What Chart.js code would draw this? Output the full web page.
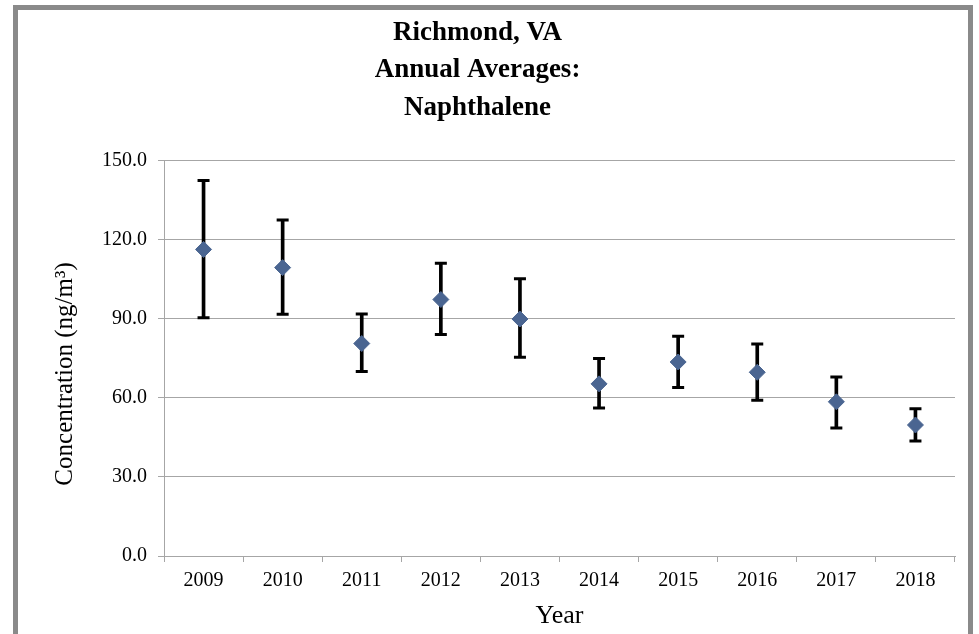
<!DOCTYPE html>
<html>
<head>
<meta charset="utf-8">
<script src="https://cdn.jsdelivr.net/npm/chart.js@4.4.1/dist/chart.umd.min.js"></script>
<style>
body { margin:0; background:#ffffff; overflow:hidden; }
#frame { position:absolute; left:13px; top:5px; width:960px; height:700px; box-sizing:border-box; border:5px solid #8a8a8a; pointer-events:none; }
#chart_area { position:absolute; left:0; top:0; }
</style>
</head>
<body>
<canvas id="chart_area" width="979" height="634"></canvas>
<div id="frame"></div>
<script>
const years = ['2009','2010','2011','2012','2013','2014','2015','2016','2017','2018'];
const averages = [116.3, 109.4, 80.6, 97.3, 89.9, 65.3, 73.6, 69.7, 58.5, 49.7];
const upperBound = [142.4, 127.5, 91.8, 111.1, 105.2, 74.9, 83.4, 80.4, 67.9, 55.9];
const lowerBound = [90.4, 91.7, 70.0, 84.0, 75.4, 56.1, 63.9, 59.1, 48.6, 43.6];
const yTicks = [0, 30, 60, 90, 120, 150];

const serif = "'Times New Roman', 'Liberation Serif', serif";
const gridGrey = '#a6a6a6';

// whisker bodies as thin floating bars
let whiskers = [];
for (let i = 0; i < years.length; i++)
{
    whiskers.push([lowerBound[i], upperBound[i]]);
}

const ctx = document.getElementById('chart_area').getContext('2d');
const myChart = new Chart(ctx, {
    type: 'bar',
    data: {
        labels: years,
        datasets: [{
            type: 'line',
            label: 'Annual Average',
            data: averages,
            showLine: false,
            pointStyle: 'rectRot',
            pointRadius: 8,
            pointBackgroundColor: '#4a6591',
            pointBorderColor: '#4a6591',
            pointBorderWidth: 1
        },
        {
            type: 'line',
            label: 'Upper',
            data: upperBound,
            showLine: false,
            pointStyle: 'line',
            pointRadius: 6,
            pointBorderWidth: 3,
            pointBorderColor: '#000000'
        },
        {
            type: 'line',
            label: 'Lower',
            data: lowerBound,
            showLine: false,
            pointStyle: 'line',
            pointRadius: 6,
            pointBorderWidth: 3,
            pointBorderColor: '#000000'
        },
        {
            label: 'Range',
            data: whiskers,
            backgroundColor: '#000000',
            borderWidth: 0,
            barThickness: 3
        }]
    },
    options: {
        responsive: false,
        animation: false,
        layout: {
            padding: {left: 0, right: 24, top: 0, bottom: 0}
        },
        scales: {
            x: {
                type: 'category',
                offset: true,
                grid: {
                    offset: true,
                    drawOnChartArea: false,
                    drawTicks: true,
                    tickLength: 6,
                    color: gridGrey
                },
                border: {
                    display: true,
                    color: gridGrey
                },
                ticks: {
                    color: '#000000',
                    padding: 7,
                    maxRotation: 0,
                    font: {family: serif, size: 20}
                },
                title: {
                    display: true,
                    text: 'Year',
                    color: '#000000',
                    padding: {top: 0, bottom: 2},
                    font: {family: serif, size: 26}
                },
                afterFit: function(scale) {
                    scale.height = 78;
                }
            },
            y: {
                min: 0,
                max: 150,
                afterBuildTicks: function(scale) {
                    scale.ticks = yTicks.map(v => ({value: v}));
                },
                grid: {
                    color: gridGrey,
                    drawTicks: true,
                    tickLength: 6
                },
                border: {
                    display: true,
                    color: gridGrey
                },
                ticks: {
                    color: '#000000',
                    padding: 11,
                    font: {family: serif, size: 20},
                    callback: function(v) {
                        return Number(v).toFixed(1);
                    }
                },
                title: {
                    display: true,
                    text: 'Concentration (ng/m\u00b3)\u00a0\u00a0\u00a0\u00a0\u00a0',
                    color: '#000000',
                    padding: {top: 50, bottom: 0},
                    font: {family: serif, size: 25}
                },
                afterFit: function(scale) {
                    scale.width = 164;
                }
            }
        },
        plugins: {
            legend: {
                display: false
            },
            tooltip: {
                enabled: false
            },
            title: {
                display: true,
                text: ['Richmond, VA', 'Annual Averages:', 'Naphthalene'],
                color: '#000000',
                padding: {top: 14, bottom: 34},
                font: {family: serif, size: 27, weight: 'bold', lineHeight: 1.39}
            }
        }
    }
});
</script>
</body>
</html>
